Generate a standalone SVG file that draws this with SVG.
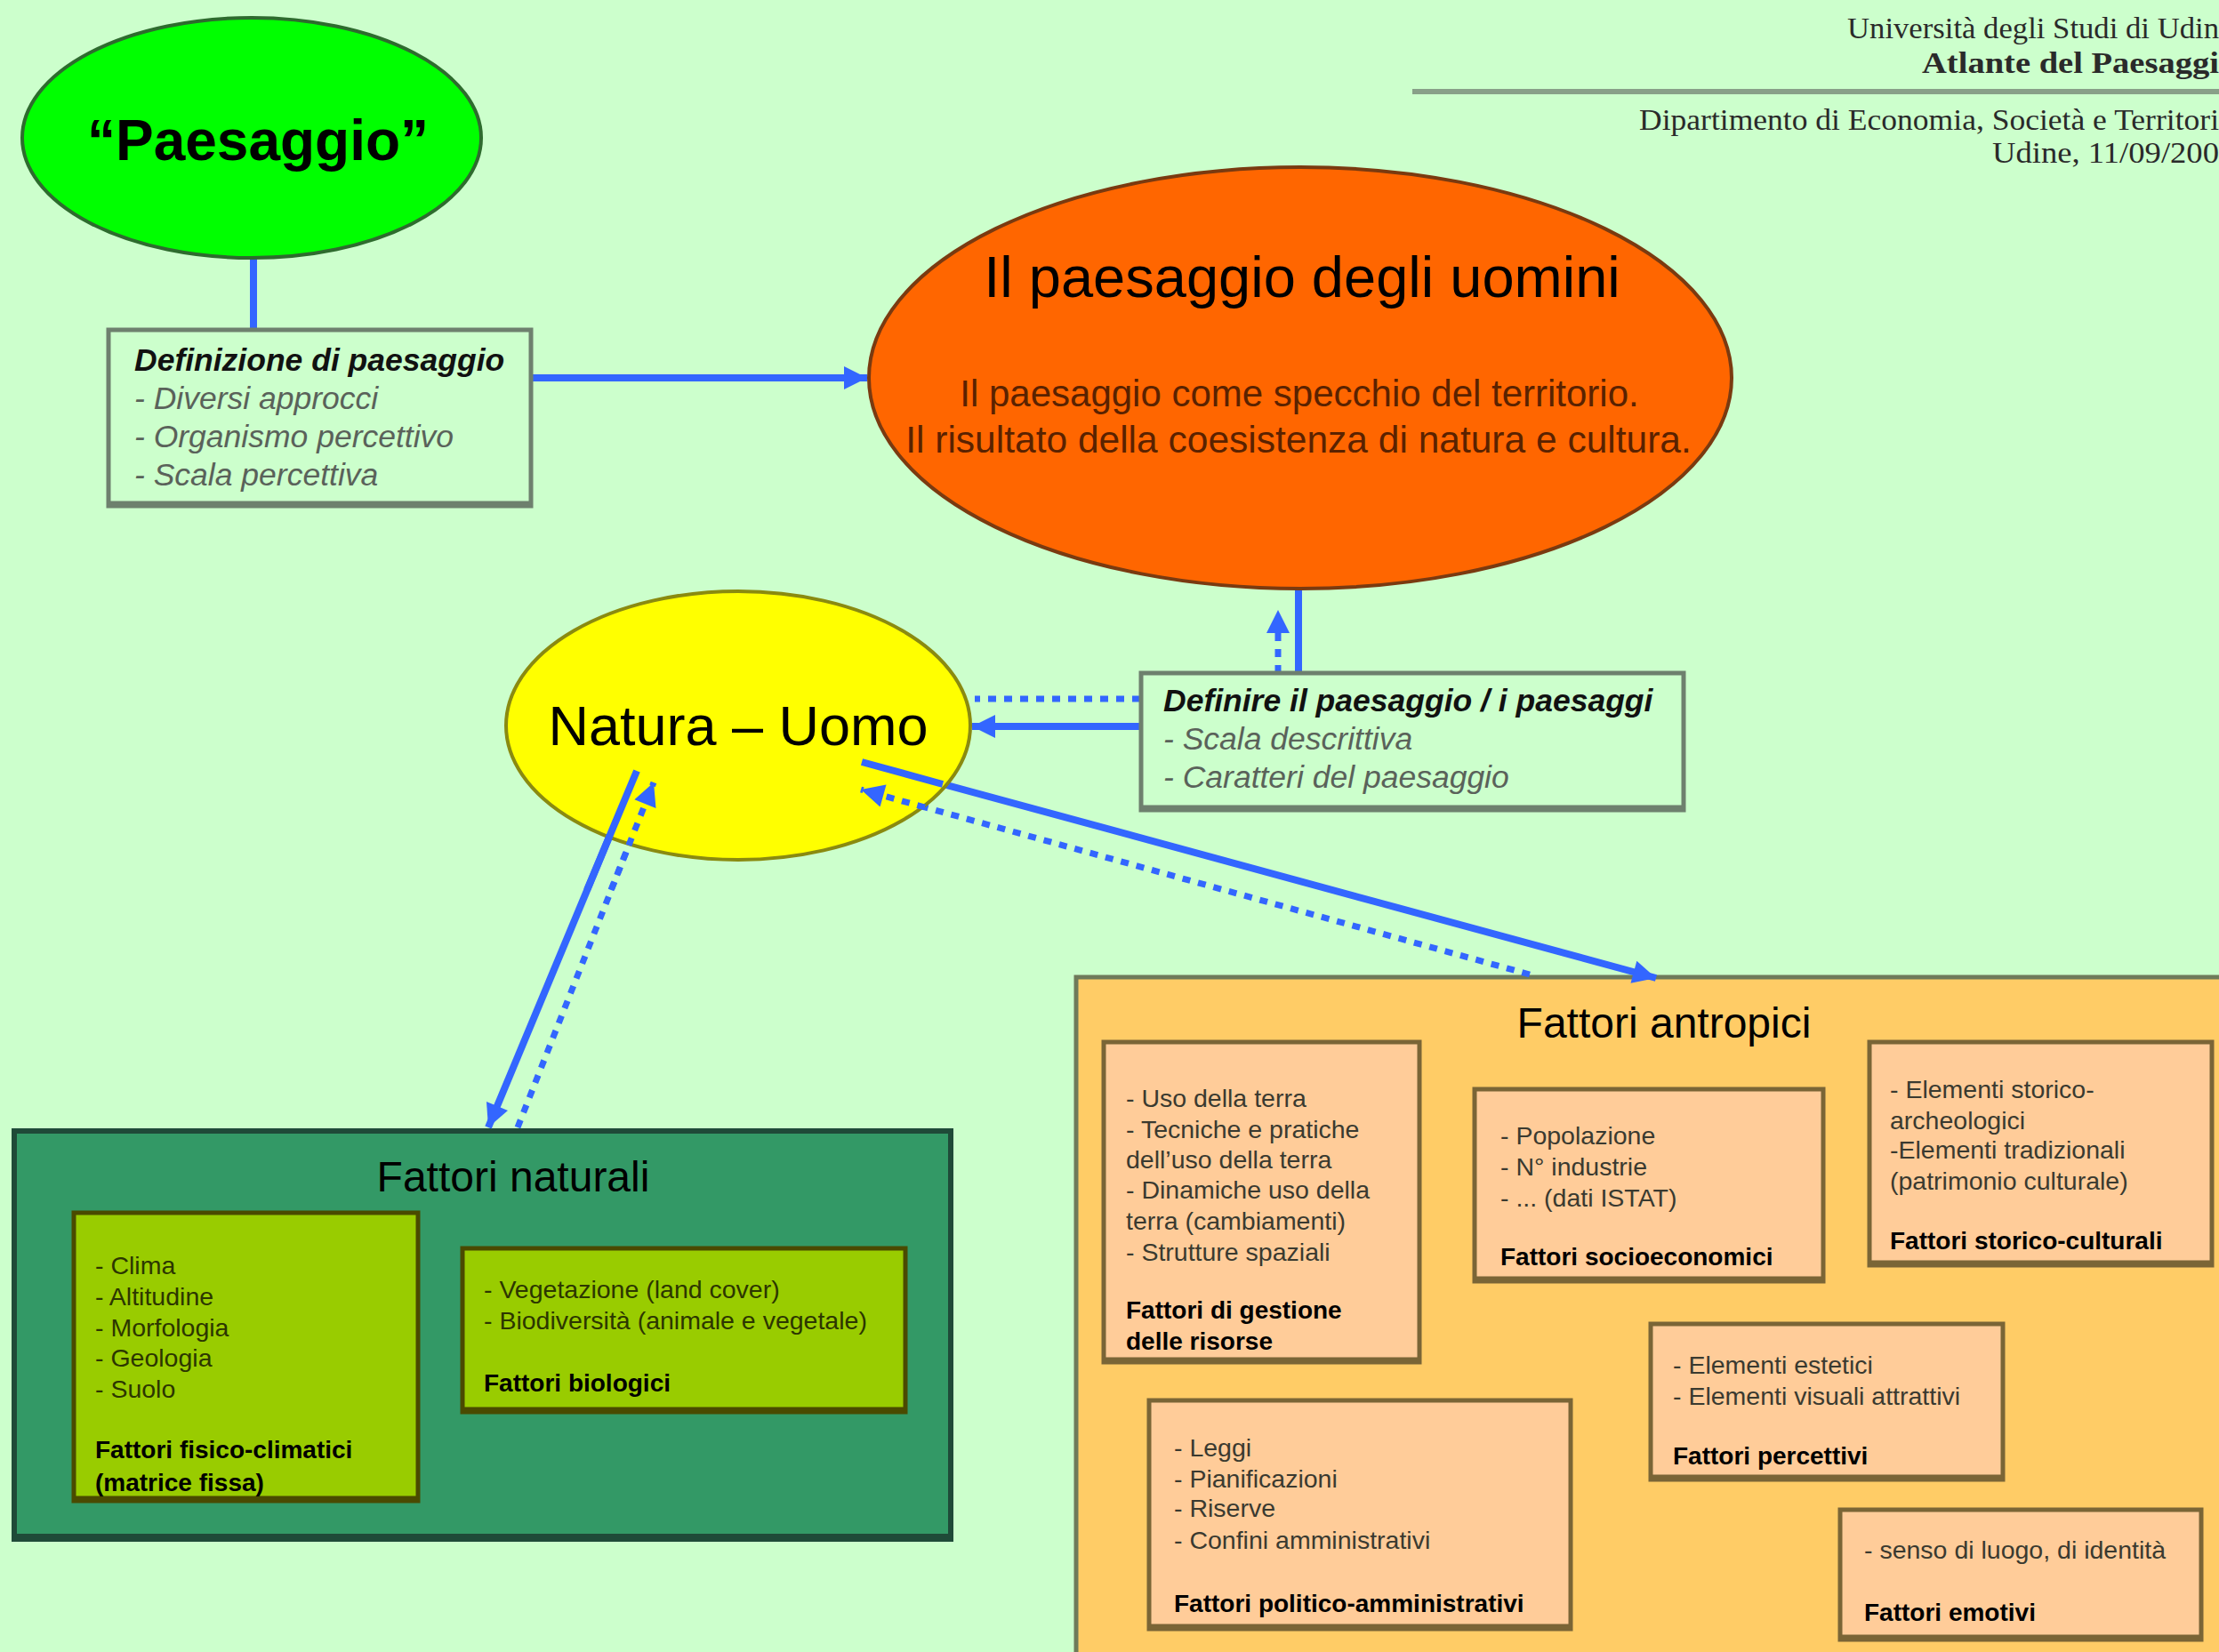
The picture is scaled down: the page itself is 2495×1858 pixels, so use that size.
<svg xmlns="http://www.w3.org/2000/svg" width="2495" height="1858" viewBox="0 0 2495 1858">
<style>
.hdr{font-family:"Liberation Serif",serif;font-size:34px;fill:#2a2a2a;text-anchor:end}
.big{font-family:"Liberation Sans",Arial,sans-serif;fill:#000;text-anchor:middle}
.boxt{font-family:"Liberation Sans",Arial,sans-serif;font-size:35.5px;font-style:italic}
.boxt .h{font-weight:bold;fill:#111}
.boxt .i{fill:#5a625a}
.sm{font-family:"Liberation Sans",Arial,sans-serif;font-size:28.5px;fill:#3a3a30}
.smb{font-family:"Liberation Sans",Arial,sans-serif;font-size:28px;font-weight:bold;fill:#000}
.nat{fill:#2c3600}
.defbox{fill:#ccffcc;stroke:#6e806e;stroke-width:5}
.green{fill:#99cc00;stroke:#4a4a00;stroke-width:5}
.peach{fill:#ffcc99;stroke:#7a6536;stroke-width:5}
.solid{stroke:#3366ff;stroke-width:8;fill:none}
.dot{stroke:#3366ff;stroke-width:7;fill:none;stroke-dasharray:9 9}
</style>
<defs>
<marker id="arr" viewBox="0 0 10 10" refX="10" refY="5" markerWidth="32" markerHeight="26" markerUnits="userSpaceOnUse" orient="auto">
<path d="M0,0 L10,5 L0,10 z" fill="#3366ff"/>
</marker>
</defs>
<rect x="0" y="0" width="2495" height="1858" fill="#ccffcc"/>

<g id="header">
<text class="hdr" x="2495" y="43" textLength="418" lengthAdjust="spacingAndGlyphs">Università degli Studi di Udin</text>
<text class="hdr" x="2495" y="82" font-weight="bold" textLength="334" lengthAdjust="spacingAndGlyphs">Atlante del Paesaggi</text>
<line x1="1588" y1="103" x2="2495" y2="103" stroke="#88a088" stroke-width="6"/>
<text class="hdr" x="2495" y="146" textLength="652" lengthAdjust="spacingAndGlyphs">Dipartimento di Economia, Società e Territori</text>
<text class="hdr" x="2495" y="183" textLength="255" lengthAdjust="spacingAndGlyphs">Udine, 11/09/200</text>
</g>

<g id="fattori-naturali">
<rect x="16" y="1272" width="1053" height="459" fill="#339966" stroke="#1f4a38" stroke-width="6"/>
<line x1="16" y1="1729" x2="1069" y2="1729" stroke="#1f4a38" stroke-width="8"/>
<text class="big" x="577" y="1340" font-size="48">Fattori naturali</text>
</g>
<g id="fisico-climatici">
<rect class="green" x="83" y="1364" width="387" height="324"/>
<line x1="83" y1="1686" x2="470" y2="1686" stroke="#4a4a00" stroke-width="7"/>
<text class="sm nat" x="107" y="1433">- Clima</text>
<text class="sm nat" x="107" y="1468">- Altitudine</text>
<text class="sm nat" x="107" y="1503">- Morfologia</text>
<text class="sm nat" x="107" y="1537">- Geologia</text>
<text class="sm nat" x="107" y="1572">- Suolo</text>
<text class="smb" x="107" y="1640">Fattori fisico-climatici</text>
<text class="smb" x="107" y="1677">(matrice fissa)</text>
</g>
<g id="biologici">
<rect class="green" x="520" y="1404" width="498" height="184"/>
<line x1="520" y1="1586" x2="1018" y2="1586" stroke="#4a4a00" stroke-width="7"/>
<text class="sm nat" x="544" y="1460">- Vegetazione (land cover)</text>
<text class="sm nat" x="544" y="1495">- Biodiversità (animale e vegetale)</text>
<text class="smb" x="544" y="1565">Fattori biologici</text>
</g>

<g id="fattori-antropici">
<rect x="1210" y="1099" width="1320" height="800" fill="#ffcc66" stroke="#6e7a5a" stroke-width="5"/>
<text class="big" x="1871" y="1167" font-size="48">Fattori antropici</text>
</g>
<g id="gestione">
<rect class="peach" x="1241" y="1172" width="355" height="360"/>
<line x1="1241" y1="1530" x2="1596" y2="1530" stroke="#7a6536" stroke-width="7"/>
<text class="sm" x="1266" y="1245">- Uso della terra</text>
<text class="sm" x="1266" y="1280">- Tecniche e pratiche</text>
<text class="sm" x="1266" y="1314">dell’uso della terra</text>
<text class="sm" x="1266" y="1348">- Dinamiche uso della</text>
<text class="sm" x="1266" y="1383">terra (cambiamenti)</text>
<text class="sm" x="1266" y="1418">- Strutture spaziali</text>
<text class="smb" x="1266" y="1483">Fattori di gestione</text>
<text class="smb" x="1266" y="1518">delle risorse</text>
</g>
<g id="socioeconomici">
<rect class="peach" x="1658" y="1225" width="392" height="216"/>
<line x1="1658" y1="1439" x2="2050" y2="1439" stroke="#7a6536" stroke-width="7"/>
<text class="sm" x="1687" y="1287">- Popolazione</text>
<text class="sm" x="1687" y="1322">- N° industrie</text>
<text class="sm" x="1687" y="1357">- ... (dati ISTAT)</text>
<text class="smb" x="1687" y="1423">Fattori socioeconomici</text>
</g>
<g id="storico-culturali">
<rect class="peach" x="2102" y="1172" width="385" height="251"/>
<line x1="2102" y1="1421" x2="2487" y2="1421" stroke="#7a6536" stroke-width="7"/>
<text class="sm" x="2125" y="1235">- Elementi storico-</text>
<text class="sm" x="2125" y="1270">archeologici</text>
<text class="sm" x="2125" y="1303">-Elementi tradizionali</text>
<text class="sm" x="2125" y="1338">(patrimonio culturale)</text>
<text class="smb" x="2125" y="1405">Fattori storico-culturali</text>
</g>
<g id="percettivi">
<rect class="peach" x="1856" y="1489" width="396" height="175"/>
<line x1="1856" y1="1662" x2="2252" y2="1662" stroke="#7a6536" stroke-width="7"/>
<text class="sm" x="1881" y="1545">- Elementi estetici</text>
<text class="sm" x="1881" y="1580">- Elementi visuali attrattivi</text>
<text class="smb" x="1881" y="1647">Fattori percettivi</text>
</g>
<g id="politico-amministrativi">
<rect class="peach" x="1292" y="1575" width="474" height="257"/>
<line x1="1292" y1="1830" x2="1766" y2="1830" stroke="#7a6536" stroke-width="7"/>
<text class="sm" x="1320" y="1638">- Leggi</text>
<text class="sm" x="1320" y="1673">- Pianificazioni</text>
<text class="sm" x="1320" y="1706">- Riserve</text>
<text class="sm" x="1320" y="1742">- Confini amministrativi</text>
<text class="smb" x="1320" y="1813">Fattori politico-amministrativi</text>
</g>
<g id="emotivi">
<rect class="peach" x="2069" y="1698" width="406" height="146"/>
<line x1="2069" y1="1842" x2="2475" y2="1842" stroke="#7a6536" stroke-width="7"/>
<text class="sm" x="2096" y="1753">- senso di luogo, di identità</text>
<text class="smb" x="2096" y="1823">Fattori emotivi</text>
</g>

<g id="connectors">
<line class="solid" x1="285" y1="290" x2="285" y2="371" stroke-width="7"/>
<line class="solid" x1="597" y1="425" x2="975" y2="425" marker-end="url(#arr)"/>
<line class="solid" x1="1460" y1="660" x2="1460" y2="757" stroke-width="6"/>
<line class="dot" x1="1437" y1="757" x2="1437" y2="686" marker-end="url(#arr)"/>
<line class="dot" x1="1282" y1="786" x2="1096" y2="786"/>
<line class="solid" x1="1282" y1="817" x2="1093" y2="817" marker-end="url(#arr)"/>
<line class="solid" x1="716" y1="867" x2="549" y2="1268" stroke-width="7" marker-end="url(#arr)"/>
<line class="dot" x1="582" y1="1268" x2="735" y2="880" marker-end="url(#arr)"/>
<line class="solid" x1="969" y1="857" x2="1862" y2="1100" stroke-width="9" marker-end="url(#arr)"/>
<line class="dot" x1="1720" y1="1096" x2="968" y2="888" marker-end="url(#arr)"/>
</g>

<g id="paesaggio">
<ellipse cx="283" cy="155" rx="258" ry="135" fill="#00ff00" stroke="#2e6b2e" stroke-width="4"/>
<text class="big" x="290" y="180" font-size="64" font-weight="bold">“Paesaggio”</text>
</g>

<g id="definizione">
<rect class="defbox" x="122" y="371" width="475" height="198"/>
<line x1="122" y1="567" x2="597" y2="567" stroke="#6e806e" stroke-width="7"/>
<text class="boxt" x="151" y="417"><tspan class="h">Definizione di paesaggio</tspan></text>
<text class="boxt" x="151" y="460"><tspan class="i">- Diversi approcci</tspan></text>
<text class="boxt" x="151" y="503"><tspan class="i">- Organismo percettivo</tspan></text>
<text class="boxt" x="151" y="546"><tspan class="i">- Scala percettiva</tspan></text>
</g>

<g id="paesaggio-uomini">
<ellipse cx="1462" cy="425" rx="485" ry="237" fill="#ff6600" stroke="#7a3a10" stroke-width="4"/>
<text class="big" x="1464" y="334" font-size="65" fill="#1a0800">Il paesaggio degli uomini</text>
<text class="big" x="1461" y="457" font-size="42" style="fill:#5a2200">Il paesaggio come specchio del territorio.</text>
<text class="big" x="1460" y="509" font-size="42.5" style="fill:#5a2200">Il risultato della coesistenza di natura e cultura.</text>
</g>

<g id="definire">
<rect class="defbox" x="1283" y="757" width="610" height="154"/>
<line x1="1283" y1="909" x2="1893" y2="909" stroke="#6e806e" stroke-width="7"/>
<text class="boxt" x="1308" y="800"><tspan class="h">Definire il paesaggio / i paesaggi</tspan></text>
<text class="boxt" x="1308" y="843"><tspan class="i">- Scala descrittiva</tspan></text>
<text class="boxt" x="1308" y="886"><tspan class="i">- Caratteri del paesaggio</tspan></text>
</g>

<g id="natura-uomo">
<ellipse cx="830" cy="816" rx="261" ry="151" fill="#ffff00" stroke="#8a8a10" stroke-width="4"/>
<text class="big" x="830" y="838" font-size="63">Natura – Uomo</text>
</g>
<g id="connectors-over">
<line class="solid" x1="716" y1="867" x2="660" y2="1001" stroke-width="7"/>
<line class="dot" x1="687" y1="1001" x2="735" y2="880" marker-end="url(#arr)"/>
<line class="solid" x1="969" y1="857" x2="1060" y2="882" stroke-width="9"/>
<line class="dot" x1="1040" y1="908" x2="968" y2="888" marker-end="url(#arr)"/>
</g>
</svg>
